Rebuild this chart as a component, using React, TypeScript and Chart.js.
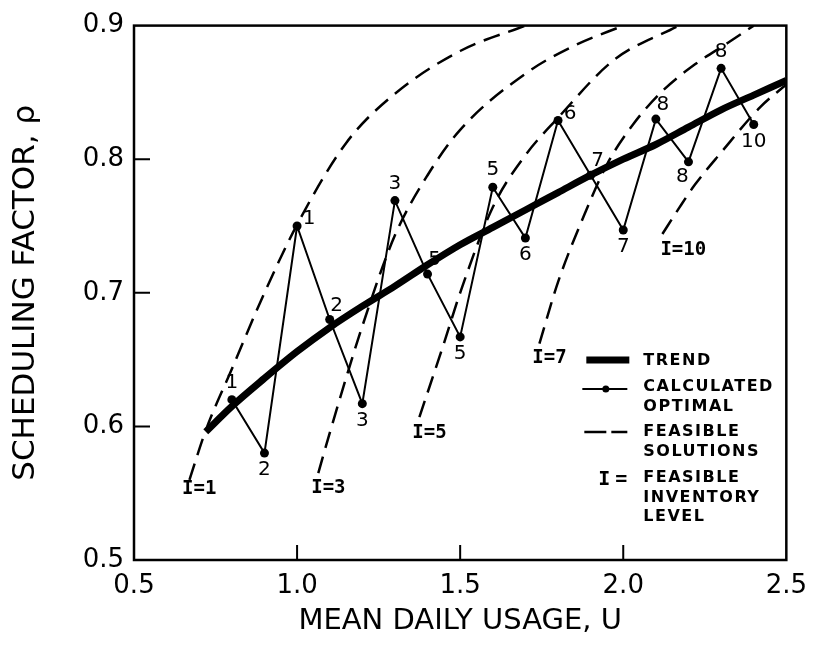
import React, { useEffect, useRef } from 'react';
import { Chart, registerables } from 'chart.js';

Chart.register(...registerables);

// ---------- data ----------
const xTickValues = [0.5, 1.0, 1.5, 2.0, 2.5];
const yTickValues = [0.5, 0.6, 0.7, 0.8, 0.9];

const xTitle = 'MEAN DAILY USAGE, U';
const yTitle = 'SCHEDULING FACTOR, ρ';

// Trend
const trendU = [0.72, 0.8, 0.9, 1.0, 1.1, 1.2, 1.3, 1.4, 1.5, 1.6, 1.7, 1.8, 1.9, 2.0, 2.1, 2.2, 2.3, 2.4, 2.5];
const trendRho = [0.596, 0.615, 0.636, 0.656, 0.674, 0.69, 0.705, 0.721, 0.736, 0.749, 0.762, 0.775, 0.788, 0.8, 0.811, 0.824, 0.837, 0.848, 0.859];

// Calculated optimal
const optU = [0.8, 0.9, 1.0, 1.1, 1.2, 1.3, 1.4, 1.5, 1.6, 1.7, 1.8, 1.9, 2.0, 2.1, 2.2, 2.3, 2.4];
const optRho = [0.62, 0.58, 0.75, 0.68, 0.617, 0.769, 0.714, 0.667, 0.779, 0.741, 0.829, 0.788, 0.747, 0.83, 0.798, 0.868, 0.826];
const optLabels = ['1', '2', '1', '2', '3', '3', '5', '5', '5', '6', '6', '7', '7', '8', '8', '8', '10'];
const optLabelSide = ['n', 's', 'e', 'ne', 's', 'n', 'ne', 's', 'n', 's', 'e', 'ne', 's', 'ne', 'sw', 'n', 's'];

// Feasible solutions (inventory levels)
const feasI1U = [0.67, 0.72, 0.8, 0.9, 1.0, 1.15, 1.3, 1.5, 1.7];
const feasI1Rho = [0.56, 0.597, 0.643, 0.70, 0.751, 0.812, 0.849, 0.881, 0.9];
const feasI3U = [1.065, 1.1, 1.2, 1.3, 1.4, 1.5, 1.7, 1.85, 2.0];
const feasI3Rho = [0.565, 0.595, 0.675, 0.743, 0.788, 0.822, 0.864, 0.885, 0.9];
const feasI5U = [1.375, 1.45, 1.5, 1.6, 1.7, 1.8, 1.97, 2.17];
const feasI5Rho = [0.607, 0.662, 0.70, 0.764, 0.803, 0.831, 0.874, 0.9];
const feasI7U = [1.743, 1.8, 1.88, 1.95, 2.03, 2.12, 2.22, 2.32, 2.4];
const feasI7Rho = [0.662, 0.708, 0.758, 0.796, 0.826, 0.851, 0.871, 0.887, 0.9];
const feasI10U = [2.12, 2.17, 2.22, 2.3, 2.42, 2.5];
const feasI10Rho = [0.744, 0.763, 0.781, 0.805, 0.839, 0.856];

const curveNames = ['I=1', 'I=3', 'I=5', 'I=7', 'I=10'];
const curveLabelU = [0.70, 1.096, 1.406, 1.774, 2.184];
const curveLabelRho = [0.553, 0.554, 0.595, 0.651, 0.732];

const legendTrend = ['TREND'];
const legendOptimal = ['CALCULATED', 'OPTIMAL'];
const legendFeasible = ['FEASIBLE', 'SOLUTIONS'];
const legendInventory = ['FEASIBLE', 'INVENTORY', 'LEVEL'];
const legendInventorySymbol = 'I';

// ---------- styling ----------
const INK = '#000';
const SIDE: Record<string, [number, number]> = {
  n: [0, -17],
  s: [0, 17],
  ne: [7, -14],
  e: [12, -7],
  sw: [-6, 15],
};

const pts = (xs: number[], ys: number[]) => xs.map((x, i) => ({ x, y: ys[i] }));

const overlayPlugin = {
  id: 'overlay',
  afterDatasetsDraw(chart: any) {
    const { ctx, chartArea: a, scales } = chart;
    const xs = scales.x;
    const ys = scales.y;
    ctx.save();
    ctx.strokeStyle = INK;
    ctx.fillStyle = INK;
    // frame
    ctx.lineWidth = 2.5;
    ctx.strokeRect(a.left, a.top, a.right - a.left, a.bottom - a.top);
    // inward tick marks
    ctx.lineWidth = 2;
    ctx.beginPath();
    xTickValues.forEach((v) => {
      const px = xs.getPixelForValue(v);
      if (px > a.left + 2 && px < a.right - 2) {
        ctx.moveTo(px, a.bottom);
        ctx.lineTo(px, a.bottom - 15);
      }
    });
    yTickValues.forEach((v) => {
      const py = ys.getPixelForValue(v);
      if (py > a.top + 2 && py < a.bottom - 2) {
        ctx.moveTo(a.left, py);
        ctx.lineTo(a.left + 16, py);
      }
    });
    ctx.stroke();

    // point labels
    ctx.font = '20px "DejaVu Sans"';
    ctx.textAlign = 'center';
    ctx.textBaseline = 'middle';
    optLabels.forEach((t, i) => {
      const [dx, dy] = SIDE[optLabelSide[i]];
      ctx.fillText(t, xs.getPixelForValue(optU[i]) + dx, ys.getPixelForValue(optRho[i]) + dy);
    });

    // curve labels
    ctx.font = 'bold 19px "DejaVu Sans Mono"';
    curveNames.forEach((t, i) => {
      ctx.fillText(t, xs.getPixelForValue(curveLabelU[i]), ys.getPixelForValue(curveLabelRho[i]));
    });

    // legend
    const sx0 = a.right - 200;
    const sx1 = a.right - 157;
    const tx = a.right - 143;
    const base = a.bottom - 200;
    // trend
    ctx.lineWidth = 7;
    ctx.beginPath();
    ctx.moveTo(sx0, base);
    ctx.lineTo(sx1, base);
    ctx.stroke();
    // optimal
    ctx.lineWidth = 2;
    ctx.beginPath();
    ctx.moveTo(sx0 - 4, base + 29);
    ctx.lineTo(sx1 - 2, base + 29);
    ctx.stroke();
    ctx.beginPath();
    ctx.arc((sx0 + sx1) / 2 - 2, base + 29, 3.5, 0, Math.PI * 2);
    ctx.fill();
    // feasible dashes
    ctx.lineWidth = 2.5;
    ctx.beginPath();
    ctx.moveTo(sx0 - 2, base + 72);
    ctx.lineTo(sx0 + 20, base + 72);
    ctx.moveTo(sx0 + 25, base + 72);
    ctx.lineTo(sx1 - 2, base + 72);
    ctx.stroke();
    // I =
    ctx.font = 'bold 20px "DejaVu Sans Mono"';
    ctx.textAlign = 'center';
    ctx.fillText(legendInventorySymbol, sx0 + 18, base + 120);
    ctx.fillText('=', sx0 + 35, base + 120);

    ctx.font = 'bold 16px "DejaVu Sans"';
    (ctx as any).letterSpacing = '1.5px';
    ctx.textAlign = 'left';
    const lh = 19.5;
    legendTrend.forEach((t, i) => ctx.fillText(t, tx, base + 1 + i * lh));
    legendOptimal.forEach((t, i) => ctx.fillText(t, tx, base + 27 + i * lh));
    legendFeasible.forEach((t, i) => ctx.fillText(t, tx, base + 72 + i * lh));
    legendInventory.forEach((t, i) => ctx.fillText(t, tx, base + 118 + i * lh));
    ctx.restore();
  },
};

export default function App() {
  const ref = useRef<HTMLCanvasElement | null>(null);

  useEffect(() => {
    if (!ref.current) return;
    const dashed = {
      borderColor: INK,
      borderWidth: 2.5,
      borderDash: [17, 9],
      pointRadius: 0,
      showLine: true,
      cubicInterpolationMode: 'monotone' as const,
      fill: false,
    };
    const chart = new Chart(ref.current, {
      type: 'scatter',
      data: {
        datasets: [
          { label: 'I=1', data: pts(feasI1U, feasI1Rho), ...dashed },
          { label: 'I=3', data: pts(feasI3U, feasI3Rho), ...dashed },
          { label: 'I=5', data: pts(feasI5U, feasI5Rho), ...dashed },
          { label: 'I=7', data: pts(feasI7U, feasI7Rho), ...dashed },
          { label: 'I=10', data: pts(feasI10U, feasI10Rho), ...dashed },
          {
            label: 'Trend',
            data: pts(trendU, trendRho),
            borderColor: INK,
            borderWidth: 7,
            pointRadius: 0,
            showLine: true,
            cubicInterpolationMode: 'monotone',
          },
          {
            label: 'Calculated optimal',
            data: pts(optU, optRho),
            borderColor: INK,
            backgroundColor: INK,
            borderWidth: 2,
            pointRadius: 4.5,
            pointBackgroundColor: INK,
            pointBorderWidth: 0,
            showLine: true,
            tension: 0,
          },
        ],
      },
      options: {
        responsive: false,
        animation: false,
        events: [],
        layout: { padding: { top: 23, right: 27, bottom: 0, left: 0 } },
        plugins: { legend: { display: false }, tooltip: { enabled: false } },
        scales: {
          x: {
            type: 'linear',
            position: 'bottom',
            min: 0.5,
            max: 2.5,
            grid: { display: false, drawTicks: false },
            border: { display: false },
            afterBuildTicks: (s: any) => {
              s.ticks = xTickValues.map((v) => ({ value: v }));
            },
            afterFit: (s: any) => {
              s.height = 89;
            },
            ticks: {
              color: INK,
              padding: 11,
              maxRotation: 0,
              autoSkip: false,
              font: { family: '"DejaVu Sans"', size: 26 },
              callback: (v: any) => Number(v).toFixed(1),
            },
            title: {
              display: true,
              text: xTitle,
              color: INK,
              font: { family: '"DejaVu Sans"', size: 29 },
              padding: { top: 0, bottom: 10 },
            },
          },
          y: {
            type: 'linear',
            position: 'left',
            min: 0.5,
            max: 0.9,
            grid: { display: false, drawTicks: false },
            border: { display: false },
            afterBuildTicks: (s: any) => {
              s.ticks = yTickValues.map((v) => ({ value: v }));
            },
            afterFit: (s: any) => {
              s.width = 134;
            },
            ticks: {
              color: INK,
              padding: 10,
              autoSkip: false,
              font: { family: '"DejaVu Sans"', size: 26 },
              callback: (v: any) => Number(v).toFixed(1),
            },
            title: {
              display: true,
              text: yTitle,
              color: INK,
              font: { family: '"DejaVu Sans"', size: 31 },
              padding: { top: 7, bottom: 0 },
            },
          },
        },
      },
      plugins: [overlayPlugin],
    });
    return () => chart.destroy();
  }, []);

  return (
    <div style={{ position: 'fixed', left: 0, top: 0, width: 818, height: 649, background: '#fff' }}>
      <canvas ref={ref} width={818} height={649} style={{ display: 'block', width: 818, height: 649 }} />
    </div>
  );
}
